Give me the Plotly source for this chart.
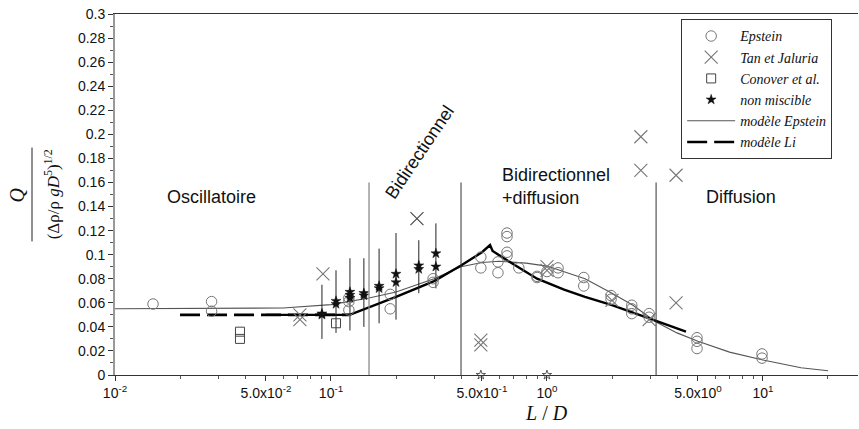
import math
import plotly.graph_objects as go

# ---------------- data ----------------
epstein_x = [0.015, 0.028, 0.028, 0.121, 0.121, 0.121, 0.188, 0.188, 0.297, 0.297,
             0.494, 0.494, 0.593, 0.593, 0.653, 0.653, 0.653, 0.653, 0.741, 0.90,
             0.90, 1.0, 1.125, 1.125, 1.48, 1.48, 1.98, 1.98, 2.47, 2.47, 2.47,
             2.97, 2.97, 4.95, 4.95, 4.95, 9.9, 9.9]
epstein_y = [0.059, 0.061, 0.053, 0.064, 0.061, 0.054, 0.067, 0.055, 0.080, 0.077,
             0.098, 0.089, 0.094, 0.085, 0.118, 0.115, 0.102, 0.099, 0.089, 0.082,
             0.081, 0.086, 0.089, 0.085, 0.081, 0.074, 0.066, 0.063, 0.058, 0.055, 0.051,
             0.051, 0.048, 0.031, 0.028, 0.022, 0.0175, 0.014]

tan_x = [0.0718, 0.0718, 0.0918, 0.25, 0.494, 0.494, 1.0, 1.0, 2.0, 2.72, 2.72, 2.97, 3.96, 3.96]
tan_y = [0.050, 0.046, 0.084, 0.130, 0.029, 0.025, 0.090, 0.087, 0.062, 0.198, 0.170, 0.046, 0.166, 0.060]

conover_x = [0.0379, 0.0379, 0.1055]
conover_y = [0.036, 0.030, 0.043]

star_x = [0.0908, 0.0908, 0.1055, 0.1055, 0.1224, 0.1224, 0.1224, 0.142, 0.142,
          0.167, 0.167, 0.2, 0.2, 0.255, 0.255, 0.306, 0.306]
star_y = [0.051, 0.050, 0.0615, 0.059, 0.069, 0.0665, 0.064, 0.068, 0.066,
          0.074, 0.072, 0.084, 0.077, 0.091, 0.088, 0.101, 0.090]
star_zero_x = [0.494, 1.0]
star_zero_y = [0.0, 0.0]

bar_x = [0.0908, 0.1055, 0.1224, 0.142, 0.167, 0.2, 0.255, 0.306]
bar_low = [0.030, 0.035, 0.037, 0.040, 0.043, 0.046, 0.068, 0.072]
bar_high = [0.075, 0.087, 0.097, 0.097, 0.105, 0.118, 0.112, 0.126]

epstein_model_x = [0.01, 0.03, 0.06, 0.1, 0.122, 0.15, 0.2, 0.3, 0.4, 0.5, 0.6, 0.8,
                   1.0, 1.5, 2.0, 2.5, 3.2, 4.0, 5.0, 7.0, 10, 15, 20]
epstein_model_y = [0.055, 0.0552, 0.0557, 0.0585, 0.061, 0.064, 0.069, 0.080, 0.090,
                   0.0935, 0.0945, 0.093, 0.0905, 0.080, 0.068, 0.058, 0.044, 0.035,
                   0.028, 0.019, 0.0125, 0.006, 0.0035]

li_x = [0.02, 0.122]
li_y = [0.05, 0.05]

thick_x = [0.05, 0.122, 0.2, 0.3, 0.4, 0.5, 0.545, 0.56, 0.7, 0.9, 1.2, 1.5, 2.0, 2.5, 3.2, 4.4]
thick_y = [0.05, 0.05, 0.065, 0.078, 0.091, 0.102, 0.108, 0.103, 0.092, 0.080, 0.071,
           0.065, 0.058, 0.052, 0.045, 0.036]

region_bounds = [0.15, 0.4, 3.2]
region_colors = ["#8a8a8a", "#333333", "#333333"]
region_top = 0.16

region_labels = ["Oscillatoire", "Bidirectionnel", "Bidirectionnel<br>+diffusion", "Diffusion"]
region_label_x = [0.0281, 0.258, 0.605, 7.9]
region_label_y = [0.148, 0.185, 0.157, 0.148]

x_tickvals = [0.01, 0.05, 0.1, 0.5, 1, 5, 10]
x_ticktext = ["10<sup>-2</sup>", "5.0x10<sup>-2</sup>", "10<sup>-1</sup>",
              "5.0x10<sup>-1</sup>", "10<sup>0</sup>", "5.0x10<sup>0</sup>", "10<sup>1</sup>"]
x_minor = [m * 10 ** e for e in (-2, -1, 0, 1) for m in (2, 3, 4, 6, 7, 8, 9)]

y_tickvals = [round(0.02 * i, 2) for i in range(16)]
y_ticktext = ["0", "0.02", "0.04", "0.06", "0.08", "0.1", "0.12", "0.14", "0.16",
              "0.18", "0.2", "0.22", "0.24", "0.26", "0.28", "0.3"]

# ---------------- figure ----------------
SANS = "Liberation Sans, Arial, sans-serif"
SERIF = "Liberation Serif, Times New Roman, serif"

fig = go.Figure()

fig.add_trace(go.Scatter(
    x=epstein_model_x, y=epstein_model_y, mode="lines", name="modèle Epstein",
    line=dict(color="#555555", width=1.1), legendrank=5))
fig.add_trace(go.Scatter(
    x=li_x, y=li_y, mode="lines", name="modèle Li",
    line=dict(color="#000000", width=2.6, dash="20px,7px"), legendrank=6))
fig.add_trace(go.Scatter(
    x=thick_x, y=thick_y, mode="lines", showlegend=False,
    line=dict(color="#000000", width=2.4)))

fig.add_trace(go.Scatter(
    x=bar_x, y=[(a + b) / 2 for a, b in zip(bar_low, bar_high)], mode="markers",
    showlegend=False, hoverinfo="skip",
    marker=dict(size=1, color="rgba(0,0,0,0)"),
    error_y=dict(type="data", symmetric=True,
                 array=[(b - a) / 2 for a, b in zip(bar_low, bar_high)],
                 color="#222222", thickness=1, width=0)))

fig.add_trace(go.Scatter(
    x=epstein_x, y=epstein_y, mode="markers", name="Epstein",
    marker=dict(symbol="circle-open", size=10.5, color="#777777", line=dict(width=1)),
    legendrank=1))
fig.add_trace(go.Scatter(
    x=tan_x, y=tan_y, mode="markers", name="Tan et Jaluria",
    marker=dict(symbol="x-thin-open", size=13,
                color=["#444444" if 0.12 < v < 0.14 else "#777777" for v in tan_y],
                line=dict(width=1.1)),
    legendrank=2))
fig.add_trace(go.Scatter(
    x=conover_x, y=conover_y, mode="markers", name="Conover et al.",
    marker=dict(symbol="square-open", size=9, color="#444444", line=dict(width=1)),
    legendrank=3))
fig.add_trace(go.Scatter(
    x=star_x, y=star_y, mode="markers", name="non miscible",
    marker=dict(symbol="star", size=7.5, color="#111111", line=dict(width=0.5, color="#111111")),
    legendrank=4))
fig.add_trace(go.Scatter(
    x=star_zero_x, y=star_zero_y, mode="markers", showlegend=False, cliponaxis=False,
    marker=dict(symbol="star-open", size=7, color="#333333", line=dict(width=0.8))))

shapes = []
for xb, col in zip(region_bounds, region_colors):
    shapes.append(dict(type="line", xref="x", yref="y", x0=xb, x1=xb, y0=0, y1=region_top,
                       line=dict(color=col, width=1.3 if col == "#8a8a8a" else 1)))
# fraction bar of the y-axis title
shapes.append(dict(type="line", xref="paper", yref="paper", x0=-0.1117, x1=-0.1117,
                   y0=0.37, y1=0.63, line=dict(color="#222222", width=1)))

annotations = []
for txt, lx, ly in zip(region_labels, region_label_x, region_label_y):
    ann = dict(text=txt, x=math.log10(lx), y=ly, xref="x", yref="y", showarrow=False,
               font=dict(family=SANS, size=18, color="#111111"))
    if txt == "Bidirectionnel":
        ann["textangle"] = -56
    if txt.startswith("Bidirectionnel<br>"):
        ann["xanchor"] = "left"
        ann["align"] = "left"
    annotations.append(ann)

annotations.append(dict(text="<i>Q</i>", xref="paper", yref="paper", x=-0.132, y=0.5,
                        xanchor="center", yanchor="middle",
                        showarrow=False, textangle=-90,
                        font=dict(family=SERIF, size=20, color="#111111")))
annotations.append(dict(text="(Δρ/ρ <i>gD</i><sup>5</sup>)<sup>1/2</sup>",
                        xref="paper", yref="paper", x=-0.085, y=0.5, showarrow=False,
                        xanchor="center", yanchor="middle",
                        textangle=-90, font=dict(family=SERIF, size=17, color="#111111")))
annotations.append(dict(text="<i>L</i> / <i>D</i>", xref="x", yref="paper",
                        x=0.0, y=-0.105, showarrow=False, yanchor="middle",
                        font=dict(family=SERIF, size=20, color="#111111")))

fig.update_layout(
    width=859, height=429,
    margin=dict(l=115, r=1, t=14, b=54),
    paper_bgcolor="white", plot_bgcolor="white",
    shapes=shapes, annotations=annotations,
    showlegend=True,
    legend=dict(x=0.762, y=0.985, xanchor="left", yanchor="top",
                bgcolor="white", bordercolor="#333333", borderwidth=1,
                font=dict(family=SERIF, size=14, color="#111111", style="italic"),
                tracegroupgap=0, itemsizing="trace", itemwidth=48),
    xaxis=dict(type="log", range=[-2, 1.44], showgrid=False, zeroline=False,
               showline=True, linecolor="#333333", linewidth=1, mirror=True,
               ticks="outside", ticklen=5, tickcolor="#333333",
               tickmode="array", tickvals=x_tickvals, ticktext=x_ticktext,
               tickfont=dict(family=SANS, size=14, color="#111111"),
               minor=dict(tickmode="array", tickvals=x_minor, ticks="outside",
                          ticklen=3, tickcolor="#555555", showgrid=False)),
    yaxis=dict(range=[0, 0.3], showgrid=False, zeroline=False,
               showline=True, linecolor="#999999", linewidth=2,
               ticks="outside", ticklen=5, tickcolor="#333333",
               tickmode="array", tickvals=y_tickvals, ticktext=y_ticktext,
               tickfont=dict(family=SANS, size=14, color="#111111"),
               minor=dict(dtick=0.01, ticks="outside", ticklen=3, tickcolor="#555555",
                          showgrid=False)),
)

fig.write_html("out.html", config={"displayModeBar": False},
               post_script="document.body.style.margin='0';document.body.style.padding='0';")
